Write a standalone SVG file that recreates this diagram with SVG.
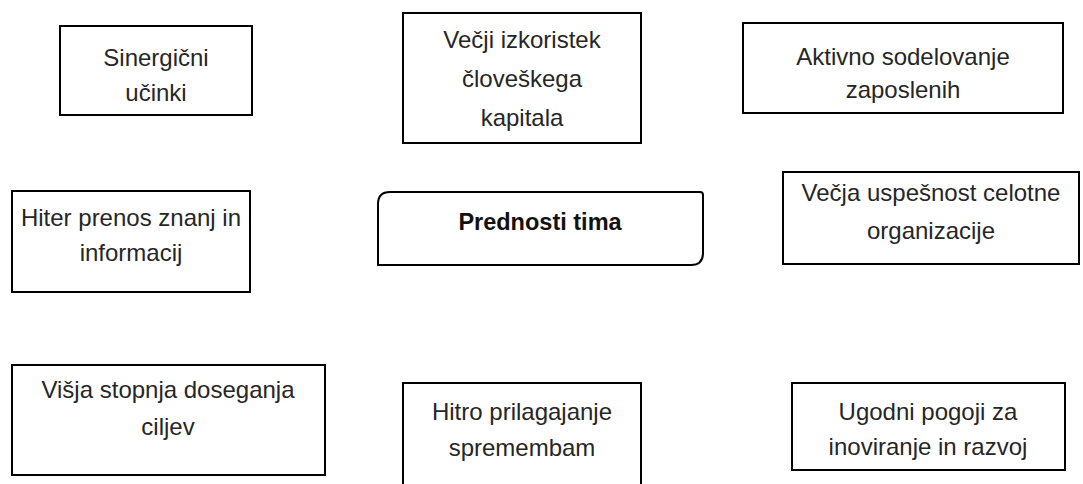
<svg xmlns="http://www.w3.org/2000/svg" width="1083" height="484" viewBox="0 0 1083 484">
<style>
.box{fill:#fff;stroke:#000;stroke-width:2}
.t{font-family:"Liberation Sans",Arial,sans-serif;font-size:24px;fill:#262626;text-anchor:middle}
.b{font-weight:bold;fill:#111;font-size:23.5px}
</style>
<rect width="1083" height="484" fill="#fff"/>
<g id="connectors"></g>
<g id="n1"><rect class="box" x="60" y="26" width="192" height="89"/>
<text class="t" x="156" y="66">Sinergični</text><text class="t" x="156" y="101">učinki</text></g>
<g id="n2"><rect class="box" x="403" y="13" width="238" height="130"/>
<text class="t" x="522" y="48">Večji izkoristek</text><text class="t" x="522" y="87">človeškega</text><text class="t" x="522" y="126">kapitala</text></g>
<g id="n3"><rect class="box" x="743" y="23" width="320" height="90"/>
<text class="t" x="903" y="65">Aktivno sodelovanje</text><text class="t" x="903" y="98">zaposlenih</text></g>
<g id="n4"><rect class="box" x="12" y="191" width="238" height="101"/>
<text class="t" x="131" y="226">Hiter prenos znanj in</text><text class="t" x="131" y="261">informacij</text></g>
<g id="center"><path class="box" d="M390 192 H700 Q703 192 703 195 V253 Q703 265 691 265 H378 V204 Q378 192 390 192 Z"/>
<text class="t b" x="540" y="230">Prednosti tima</text></g>
<g id="n5"><rect class="box" x="783" y="172" width="296" height="92"/>
<text class="t" x="931" y="201">Večja uspešnost celotne</text><text class="t" x="931" y="239">organizacije</text></g>
<g id="n7"><rect class="box" x="12" y="365" width="313" height="110"/>
<text class="t" x="168" y="398">Višja stopnja doseganja</text><text class="t" x="168" y="435">ciljev</text></g>
<g id="n8"><rect class="box" x="403" y="383" width="238" height="120"/>
<text class="t" x="522" y="420">Hitro prilagajanje</text><text class="t" x="522" y="456">spremembam</text></g>
<g id="n9"><rect class="box" x="792" y="383" width="273" height="87"/>
<text class="t" x="928" y="420">Ugodni pogoji za</text><text class="t" x="928" y="455">inoviranje in razvoj</text></g>
</svg>
